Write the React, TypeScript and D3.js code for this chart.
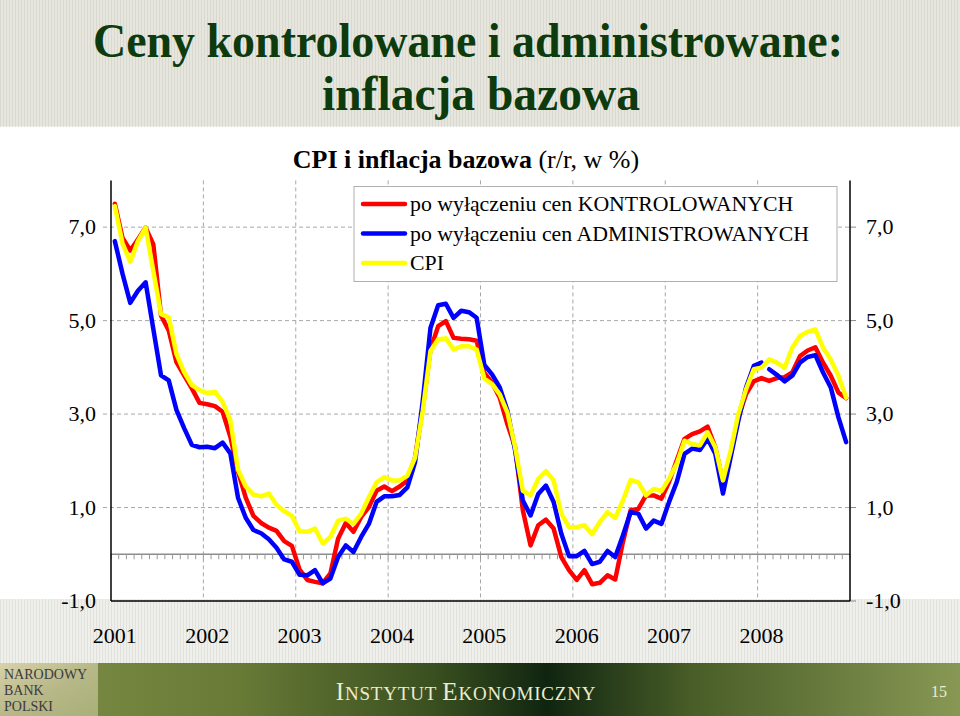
import React from "react";
import * as d3 from "d3";

const years = ["2001", "2002", "2003", "2004", "2005", "2006", "2007", "2008"];
const yTicks = [-1, 1, 3, 5, 7];
const yTickLabels = ["-1,0", "1,0", "3,0", "5,0", "7,0"];

// po wyłączeniu cen KONTROLOWANYCH (monthly, Jan 2001 - Dec 2008)
const kontrolowane = [
  7.5, 6.77, 6.5, 6.74, 6.99, 6.63, 5.11, 4.79, 4.11, 3.83, 3.55, 3.24,
  3.21, 3.17, 3.05, 2.52, 1.77, 1.21, 0.82, 0.67, 0.57, 0.5, 0.28, 0.18,
  -0.33, -0.55, -0.59, -0.62, -0.41, 0.33, 0.67, 0.48, 0.8, 1.01, 1.36, 1.45,
  1.35, 1.45, 1.58, 2.07, 3.14, 4.38, 4.88, 4.99, 4.63, 4.61, 4.6, 4.57,
  3.88, 3.67, 3.35, 2.78, 2.29, 0.94, 0.19, 0.62, 0.74, 0.55, -0.06, -0.34,
  -0.55, -0.34, -0.64, -0.61, -0.45, -0.54, 0.26, 0.94, 0.97, 1.26, 1.26, 1.19,
  1.55, 2.01, 2.47, 2.57, 2.63, 2.73, 2.29, 1.55, 2.15, 2.93, 3.43, 3.7,
  3.77, 3.71, 3.77, 3.79, 3.89, 4.24, 4.36, 4.43, 4.1, 3.82, 3.46, 3.34,
];

// po wyłączeniu cen ADMINISTROWANYCH
const administrowane = [
  6.7, 6.0, 5.38, 5.64, 5.82, 4.82, 3.83, 3.72, 3.09, 2.7, 2.34, 2.29,
  2.3, 2.27, 2.39, 2.16, 1.21, 0.78, 0.52, 0.45, 0.32, 0.14, -0.11, -0.16,
  -0.44, -0.45, -0.34, -0.62, -0.52, -0.06, 0.19, 0.05, 0.37, 0.65, 1.12, 1.24,
  1.24, 1.27, 1.43, 1.97, 3.28, 4.84, 5.33, 5.36, 5.06, 5.21, 5.18, 5.06,
  4.05, 3.85, 3.57, 3.07, 2.22, 1.15, 0.83, 1.29, 1.47, 1.12, 0.44, -0.04,
  -0.04, 0.07, -0.21, -0.16, 0.07, -0.06, 0.4, 0.9, 0.87, 0.55, 0.72, 0.65,
  1.12, 1.55, 2.15, 2.26, 2.23, 2.47, 2.15, 1.3, 2.08, 2.86, 3.57, 4.03,
  4.1, 3.96, 3.84, 3.7, 3.82, 4.1, 4.22, 4.26, 3.89, 3.57, 2.93, 2.4,
];
// series break (new methodology from Feb 2008)
const administrowaneBreak = 85;

// CPI
const cpi = [
  7.45, 6.65, 6.26, 6.7, 6.99, 6.06, 5.14, 5.07, 4.29, 3.9, 3.62, 3.51,
  3.45, 3.48, 3.26, 2.87, 1.81, 1.45, 1.28, 1.24, 1.3, 1.06, 0.92, 0.82,
  0.49, 0.48, 0.55, 0.23, 0.37, 0.72, 0.76, 0.65, 0.87, 1.22, 1.54, 1.65,
  1.58, 1.58, 1.68, 2.07, 3.07, 4.35, 4.6, 4.62, 4.38, 4.45, 4.45, 4.38,
  3.76, 3.64, 3.42, 3.03, 2.29, 1.36, 1.26, 1.61, 1.78, 1.58, 0.87, 0.58,
  0.58, 0.62, 0.43, 0.69, 0.9, 0.78, 1.15, 1.59, 1.54, 1.26, 1.4, 1.35,
  1.62, 1.94, 2.43, 2.36, 2.33, 2.61, 2.29, 1.58, 2.22, 3.0, 3.53, 3.96,
  3.99, 4.17, 4.1, 3.99, 4.42, 4.67, 4.76, 4.81, 4.42, 4.17, 3.82, 3.35,
];

const legendLabels = [
  "po wyłączeniu cen KONTROLOWANYCH",
  "po wyłączeniu cen ADMINISTROWANYCH",
  "CPI",
];
const seriesColors = ["#ff0000", "#0000ff", "#ffff00"];

const SERIF = "'Liberation Serif', 'Times New Roman', serif";

export default function App() {
  const W = 960;
  const H = 716;
  const left = 111;
  const right = 850;
  const top = 180.4;
  const bottom = 601;

  const x = d3.scaleLinear().domain([0, 96]).range([left, right]);
  const y = d3.scaleLinear().domain([-1, 8]).range([bottom, top]);

  const line = d3
    .line<[number, number]>()
    .x((d) => x(d[0] + 0.5))
    .y((d) => y(d[1]));

  const toPts = (arr: number[], from = 0, to = arr.length) =>
    arr.slice(from, to).map((v, i) => [i + from, v] as [number, number]);

  const redPath = line(toPts(kontrolowane)) || "";
  const bluePath1 = line(toPts(administrowane, 0, administrowaneBreak)) || "";
  const bluePath2 = line(toPts(administrowane, administrowaneBreak)) || "";
  const yellowPath = line(toPts(cpi)) || "";

  const monthTicks = d3.range(0, 97);
  const yearBounds = d3.range(1, 8).map((k) => k * 12);

  return (
    <svg
      width={W}
      height={H}
      style={{ position: "absolute", left: 0, top: 0, display: "block" }}
      fontFamily={SERIF}
    >
      <defs>
        <pattern id="stripes" width="3" height="4" patternUnits="userSpaceOnUse">
          <rect width="3" height="4" fill="#efefeb" />
          <rect width="1" height="4" fill="#e2e2dc" />
        </pattern>
        <pattern id="hstripes" width="3" height="4" patternUnits="userSpaceOnUse">
          <rect width="3" height="4" fill="#e6e6de" />
          <rect width="1" height="4" fill="#d9d9d0" />
        </pattern>
        <linearGradient id="footer" x1="0" x2="1" y1="0" y2="0">
          <stop offset="0%" stopColor="#7f8f48" />
          <stop offset="25%" stopColor="#687a36" />
          <stop offset="45%" stopColor="#3a5020" />
          <stop offset="57%" stopColor="#102510" />
          <stop offset="72%" stopColor="#485d27" />
          <stop offset="100%" stopColor="#889854" />
        </linearGradient>
        <linearGradient id="logo" x1="0" x2="1" y1="0" y2="1">
          <stop offset="0%" stopColor="#d8d2a8" />
          <stop offset="50%" stopColor="#b8b888" />
          <stop offset="100%" stopColor="#a8b078" />
        </linearGradient>
      </defs>

      {/* backgrounds */}
      <rect x={0} y={0} width={W} height={H} fill="url(#stripes)" />
      <rect x={0} y={0} width={W} height={126} fill="url(#hstripes)" />
      <rect x={0} y={127} width={W} height={472} fill="#ffffff" />

      {/* title */}
      <text
        x={93}
        y={57}
        fontSize={48}
        fontWeight="bold"
        fill="#0d3b0d"
        textLength={750}
        lengthAdjust="spacingAndGlyphs"
      >
        Ceny kontrolowane i administrowane:
      </text>
      <text
        x={322}
        y={110}
        fontSize={48}
        fontWeight="bold"
        fill="#0d3b0d"
        textLength={318}
        lengthAdjust="spacingAndGlyphs"
      >
        inflacja bazowa
      </text>

      {/* subtitle */}
      <text x={466} y={168} fontSize={26} textAnchor="middle" fill="#000">
        <tspan fontWeight="bold">CPI i inflacja bazowa </tspan>
        <tspan>(r/r, w %)</tspan>
      </text>

      {/* gridlines */}
      {yTicks
        .filter((v) => v > -1)
        .map((v) => (
          <line
            key={"hg" + v}
            x1={left - 8}
            x2={right}
            y1={y(v)}
            y2={y(v)}
            stroke="#a8a8a8"
            strokeWidth={1}
            strokeDasharray="4,3"
          />
        ))}
      {yearBounds.map((m) => (
        <line
          key={"vg" + m}
          x1={x(m)}
          x2={x(m)}
          y1={top}
          y2={bottom}
          stroke="#a8a8a8"
          strokeWidth={1}
          strokeDasharray="4,3"
        />
      ))}
      {/* right side ticks */}
      {yTicks.map((v) => (
        <line
          key={"rt" + v}
          x1={right}
          x2={right + 6}
          y1={y(v)}
          y2={y(v)}
          stroke="#888"
        />
      ))}

      {/* zero line with month ticks */}
      <line x1={left} x2={right} y1={y(0)} y2={y(0)} stroke="#8c8c8c" strokeWidth={1.5} />
      {monthTicks.map((m) => (
        <line
          key={"mt" + m}
          x1={x(m)}
          x2={x(m)}
          y1={y(0)}
          y2={y(0) + 5}
          stroke="#9a9a9a"
          strokeWidth={1}
        />
      ))}

      {/* axes */}
      <line x1={left} x2={left} y1={top} y2={bottom} stroke="#000" strokeWidth={1.5} />
      <line x1={right} x2={right} y1={top} y2={bottom} stroke="#000" strokeWidth={1.5} />
      <line x1={left} x2={right} y1={bottom} y2={bottom} stroke="#000" strokeWidth={1.5} />

      {/* series */}
      <g fill="none" strokeWidth={4.5} strokeLinejoin="round" strokeLinecap="round">
        <path d={redPath} stroke={seriesColors[0]} />
        <path d={bluePath1} stroke={seriesColors[1]} />
        <path d={bluePath2} stroke={seriesColors[1]} />
        <path d={yellowPath} stroke={seriesColors[2]} />
      </g>

      {/* legend */}
      <rect x={354} y={186.5} width={483} height={95} fill="#fff" stroke="#b0b0b0" strokeWidth={1} />
      {legendLabels.map((lab, i) => (
        <g key={lab}>
          <line
            x1={363}
            x2={405}
            y1={204 + i * 29.5}
            y2={204 + i * 29.5}
            stroke={seriesColors[i]}
            strokeWidth={4.5}
            strokeLinecap="round"
          />
          <text x={410} y={211 + i * 29.5} fontSize={21.8} fill="#000">
            {lab}
          </text>
        </g>
      ))}

      {/* y labels */}
      {yTicks.map((v, i) => (
        <g key={"yl" + v}>
          <text x={96} y={y(v) + 7} fontSize={22} textAnchor="end" fill="#000">
            {yTickLabels[i]}
          </text>
          <text x={866} y={y(v) + 7} fontSize={22} textAnchor="start" fill="#000">
            {yTickLabels[i]}
          </text>
        </g>
      ))}

      {/* x labels */}
      {years.map((yr, k) => (
        <text key={yr} x={x(k * 12 + 0.5)} y={643} fontSize={22} textAnchor="middle" fill="#000">
          {yr}
        </text>
      ))}

      {/* footer */}
      <rect x={0} y={663} width={W} height={53} fill="url(#footer)" />
      <rect x={0} y={663} width={98} height={53} fill="url(#logo)" />
      <g fontSize={14} fill="#3a3a40" fontFamily={SERIF}>
        <text x={4} y={679}>NARODOWY</text>
        <text x={4} y={695}>BANK</text>
        <text x={4} y={711}>POLSKI</text>
      </g>
      <text x={466} y={700} textAnchor="middle" fill="#ecebcf" fontSize={19} letterSpacing={0.8}>
        <tspan fontSize={25}>I</tspan>
        <tspan>NSTYTUT </tspan>
        <tspan fontSize={25}>E</tspan>
        <tspan>KONOMICZNY</tspan>
      </text>
      <text x={939} y={697} textAnchor="middle" fill="#ecebcf" fontSize={16}>
        15
      </text>
    </svg>
  );
}
